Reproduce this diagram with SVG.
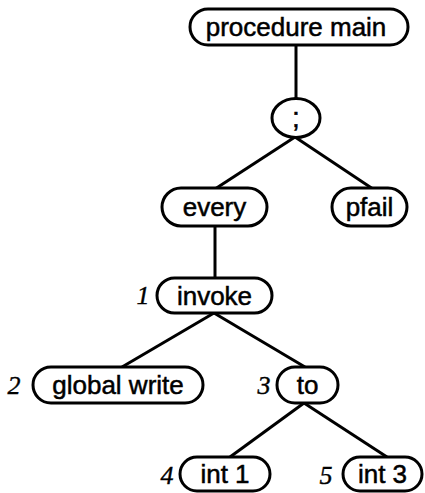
<svg xmlns="http://www.w3.org/2000/svg" width="425" height="493" viewBox="0 0 425 493">
<style>
.n{fill:#fff;stroke:#000;stroke-width:3}
.t{font-family:"Liberation Sans",Arial,sans-serif;font-size:26px;text-anchor:middle;fill:#000;stroke:#000;stroke-width:0.5}
.k{font-family:"Liberation Serif","Times New Roman",serif;font-style:italic;font-size:26px;text-anchor:middle;fill:#000;stroke:#000;stroke-width:0.4}
.e{stroke:#000;stroke-width:3;fill:none}
</style>
<rect width="425" height="493" fill="#fff"/>
<g id="connectors">
<line class="e" x1="296" y1="45" x2="296" y2="99"/>
<line class="e" x1="295" y1="137" x2="215" y2="189"/>
<line class="e" x1="295" y1="137" x2="373" y2="189"/>
<line class="e" x1="215" y1="226" x2="215" y2="278"/>
<line class="e" x1="214" y1="313" x2="122" y2="367"/>
<line class="e" x1="214" y1="313" x2="305" y2="367"/>
<line class="e" x1="304" y1="403" x2="230" y2="457"/>
<line class="e" x1="304" y1="403" x2="387" y2="457"/>
</g>
<g id="procedure-main">
<rect class="n" x="190" y="9" width="218" height="36" rx="18"/>
<text class="t" x="296" y="36">procedure main</text>
</g>
<g id="semicolon">
<ellipse class="n" cx="296" cy="118" rx="24" ry="19.5"/>
<text class="t" x="296" y="127" style="font-size:28px">;</text>
</g>
<g id="every">
<rect class="n" x="162" y="188" width="105" height="38" rx="19"/>
<text class="t" x="214.5" y="216">every</text>
</g>
<g id="pfail">
<rect class="n" x="332" y="188" width="75" height="38" rx="19"/>
<text class="t" x="369.5" y="216">pfail</text>
</g>
<g id="invoke">
<text class="k" x="143" y="304">1</text>
<rect class="n" x="157" y="278" width="115" height="35" rx="17.5"/>
<text class="t" x="214.5" y="305">invoke</text>
</g>
<g id="global-write">
<text class="k" x="14" y="394">2</text>
<rect class="n" x="33" y="367" width="170" height="36" rx="18"/>
<text class="t" x="118" y="394">global write</text>
</g>
<g id="to">
<text class="k" x="264" y="394">3</text>
<rect class="n" x="277" y="367" width="61" height="36" rx="18"/>
<text class="t" x="307.5" y="394">to</text>
</g>
<g id="int1">
<text class="k" x="167" y="484">4</text>
<rect class="n" x="180" y="457" width="90" height="34" rx="17"/>
<text class="t" x="225" y="483">int 1</text>
</g>
<g id="int3">
<text class="k" x="326" y="484">5</text>
<rect class="n" x="343" y="457" width="79" height="34" rx="17"/>
<text class="t" x="382.5" y="483">int 3</text>
</g>
</svg>
